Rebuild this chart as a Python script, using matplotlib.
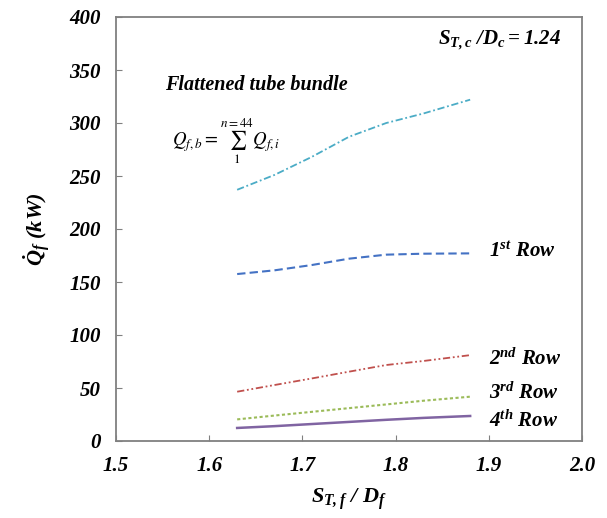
import numpy as np
import matplotlib.pyplot as plt

plt.rcParams['font.family'] = 'Liberation Serif'
plt.rcParams['mathtext.fontset'] = 'custom'
plt.rcParams['mathtext.rm'] = 'Liberation Serif:bold:italic'
plt.rcParams['mathtext.it'] = 'Liberation Serif:bold:italic'
plt.rcParams['mathtext.bf'] = 'Liberation Serif:bold:italic'

# data
ratio = [1.63, 1.67, 1.71, 1.75, 1.79, 1.83, 1.88]
bundle = [237, 251, 268, 287, 300, 309, 322]
row1 = [157.5, 161, 166, 172, 175.8, 176.7, 177]
row2 = [46.5, 52.8, 59, 65.4, 71.7, 75.5, 81]
row3 = [20.4, 24, 27.5, 31, 34.5, 38, 41.8]
row4 = [12.3, 14, 16, 18, 20, 21.8, 23.6]

fig = plt.figure(figsize=(6.07, 5.18), dpi=100)
ax = fig.add_axes([116/607, 1-441/518, (582-116)/607, (441-17)/518])

ax.plot(ratio, bundle, color='#4BACC6', lw=1.3, dashes=(4, 1.5, 1, 1.5))
ax.plot(ratio, row1, color='#4472C4', lw=1.5, ls=(0, (4, 2)))
ax.plot(ratio, row2, color='#C0504D', lw=1.3, dashes=(4, 1.5, 1, 1.5, 1, 1.5))
ax.plot(ratio, row3, color='#9BBB59', lw=1.5, ls=(0, (1.5, 1.2)))
ax.plot(ratio, row4, color='#8064A2', lw=1.8)

ax.set_xlim(1.5, 2.0)
ax.set_ylim(0, 400)
ax.set_xticks([1.5, 1.6, 1.7, 1.8, 1.9, 2.0])
ax.set_yticks(range(0, 401, 50))
ax.tick_params(direction='in', length=4, color='#808080', labelsize=15)
ax.tick_params(axis='x', pad=11)
ax.tick_params(axis='y', pad=11)
for lab in ax.get_xticklabels() + ax.get_yticklabels():
    lab.set_fontweight('bold')
    lab.set_fontstyle('italic')
for s in ax.spines.values():
    s.set_color('#808080')
    s.set_linewidth(1.3)

ax.set_xlabel(r'$S_{T,f}\ /\ D_f$', fontsize=16)
ax.xaxis.set_label_coords(0.5, -0.108)
ax.set_ylabel(r'$\dot{Q}_f$ (kW)', fontsize=16, fontweight='bold', fontstyle='italic')
ax.yaxis.set_label_coords(-0.135, 0.5)

ax.text(1.553, 331, 'Flattened tube bundle', fontsize=14.5, fontweight='bold', fontstyle='italic')
ax.text(1.977, 378, r'$S_{T,c}\ /D_c = 1.24$', fontsize=15, ha='right', va='center')
ax.text(1.560, 283, r'$Q_{f,b} = \sum_{1}^{n=44} Q_{f,i}$', fontsize=13.5, va='center',
        math_fontfamily='stix')

row_style = dict(fontsize=15, fontweight='bold', fontstyle='italic', va='center')
ax.text(1.90, 178, r'$1^{st}$ Row', **row_style)
ax.text(1.90, 77, r'$2^{nd}$ Row', **row_style)
ax.text(1.90, 45, r'$3^{rd}$ Row', **row_style)
ax.text(1.90, 19, r'$4^{th}$ Row', **row_style)

fig.savefig('out.png', dpi=100)
